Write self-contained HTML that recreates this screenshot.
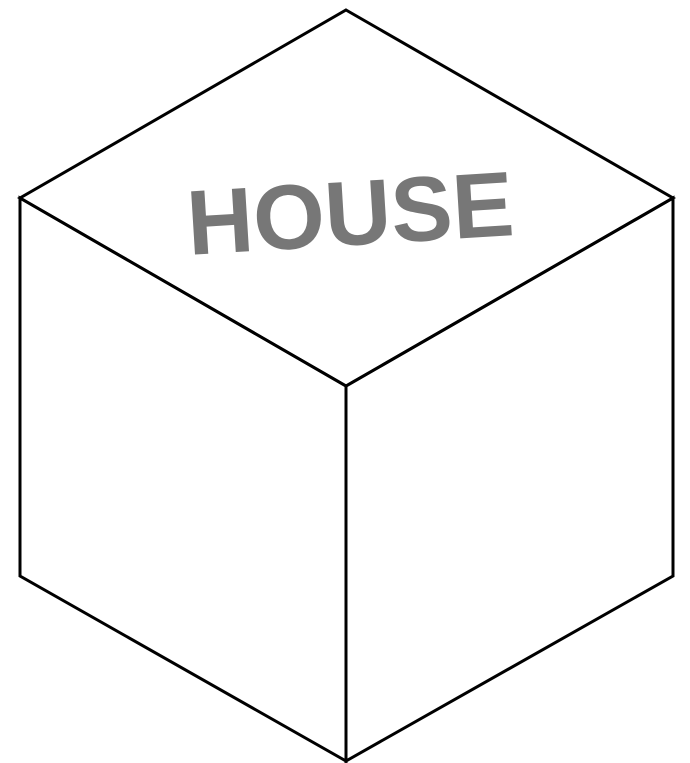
<!DOCTYPE html>
<html>
<head>
<meta charset="utf-8">
<style>
  html,body{margin:0;padding:0;background:#fff;}
  svg{display:block;}
</style>
</head>
<body>
<svg width="690" height="763" viewBox="0 0 690 763">
  <g fill="none" stroke="#000" stroke-width="3" stroke-linejoin="miter">
    <polygon points="346,10 673,198 346,386 20,198"/>
    <polygon points="20,198 346,386 346,761 20,576"/>
    <polygon points="346,386 673,198 673,576 346,761"/>
  </g>
  <text x="350" y="245" text-anchor="middle"
        font-family="Liberation Sans, sans-serif" font-weight="bold" font-size="92" fill="#777"
        transform="rotate(-3.5 350 210)">HOUSE</text>
</svg>
</body>
</html>
